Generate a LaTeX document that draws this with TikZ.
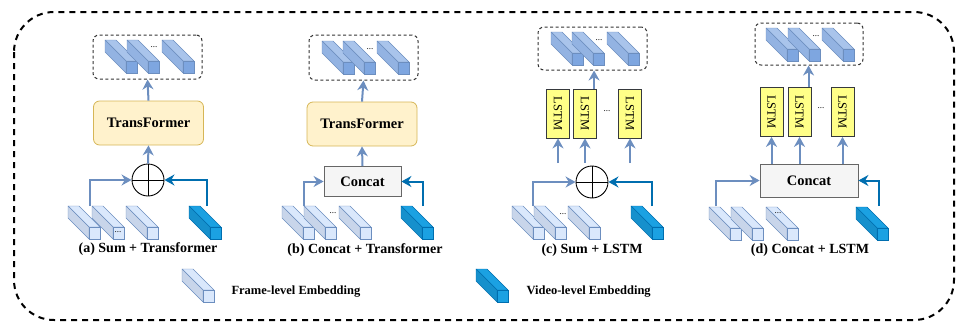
\documentclass[tikz,border=0pt]{standalone}
\usepackage{fontspec}
\setmainfont{Liberation Serif}
\usetikzlibrary{arrows.meta}
\definecolor{framefill}{HTML}{DAE8FC}
\definecolor{frameside}{HTML}{C8D5EA}
\definecolor{framedraw}{HTML}{6C8EBF}
\definecolor{outfill}{HTML}{A9C4EB}
\definecolor{outside}{HTML}{93B3E2}
\definecolor{outfront}{HTML}{7EA6E0}
\definecolor{videofill}{HTML}{1BA1E2}
\definecolor{videoside}{HTML}{1690CC}
\definecolor{videodraw}{HTML}{006EAF}
\definecolor{tffill}{HTML}{FFF2CC}
\definecolor{tfdraw}{HTML}{D6B656}
\definecolor{catfill}{HTML}{F5F5F5}
\definecolor{catdraw}{HTML}{666666}
\definecolor{lstmfill}{HTML}{FFFF88}
\definecolor{lstmdraw}{HTML}{36393D}
\tikzstyle{frame top}=[draw=framedraw, fill=framefill, line join=round]
\tikzstyle{frame side}=[draw=framedraw, fill=frameside, line join=round]
\tikzstyle{frame front}=[draw=framedraw, fill=framefill]
\tikzstyle{out top}=[draw=framedraw, fill=outfill, line join=round]
\tikzstyle{out side}=[draw=framedraw, fill=outside, line join=round]
\tikzstyle{out front}=[draw=framedraw, fill=outfront]
\tikzstyle{video top}=[draw=videodraw, fill=videofill, line join=round]
\tikzstyle{video side}=[draw=videodraw, fill=videoside, line join=round]
\tikzstyle{video front}=[draw=videodraw, fill=videofill]
\tikzstyle{out box}=[draw=black!80, dash pattern=on 3pt off 2.5pt, rounded corners=6pt, line width=1pt]
\tikzstyle{transformer}=[draw=tfdraw, fill=tffill, line width=0.8pt, rounded corners=6pt, minimum width=110pt, minimum height=44pt, font=\fontsize{14.5}{16}\selectfont\bfseries]
\tikzstyle{concat}=[draw=catdraw, fill=catfill, line width=0.8pt, minimum height=30pt, font=\fontsize{14.5}{16}\selectfont\bfseries]
\tikzstyle{lstm}=[draw=lstmdraw, fill=lstmfill, line width=0.8pt, minimum width=23pt, minimum height=49pt, inner sep=0pt, font=\fontsize{12.5}{14}\selectfont]
\tikzstyle{sum}=[draw, circle, line width=0.9pt, minimum size=32pt, inner sep=0pt,
  path picture={\draw[line width=0.9pt] (path picture bounding box.north) -- (path picture bounding box.south)
  (path picture bounding box.west) -- (path picture bounding box.east);}]
\tikzstyle{frame arrow}=[draw=framedraw, line width=2pt, -{Stealth[length=10pt, width=11pt]}]
\tikzstyle{video arrow}=[draw=videodraw, line width=2pt, -{Stealth[length=10pt, width=11pt]}]
\tikzstyle{panel title}=[font=\fontsize{14}{16}\selectfont\bfseries]
\tikzstyle{legend text}=[font=\fontsize{12.5}{14}\selectfont\bfseries, anchor=west]
\tikzstyle{dots}=[font=\fontsize{9}{9}\selectfont, inner sep=0pt]
% one embedding bar, #2,#3 = top left corner of its end face
\newcommand{\embbar}[3]{%
  \filldraw[#1 top] (#2,#3) -- ++(11,0) -- ++(-21,-21) -- ++(-11,0) -- cycle;
  \filldraw[#1 side] (#2,#3) -- ++(0,12) -- ++(-21,-21) -- ++(0,-12) -- cycle;
  \filldraw[#1 front] (#2,#3) rectangle ++(11,12);}

\begin{document}
\begin{tikzpicture}[x=1pt, y=-1pt]
  \useasboundingbox (0,0) rectangle (957,324);
  \draw[line width=2pt, dash pattern=on 6pt off 5pt, rounded corners=40pt] (14,12) rectangle (954,320);

  % (a) Sum + Transformer
  \node[out box, minimum width=109pt, minimum height=44pt] (a-out) at (147.5,57) {};
  \embbar{out}{126}{61} \embbar{out}{148}{61} \embbar{out}{183}{61}
  \node[dots] at (154,47) {...};
  \node[transformer] (a-tf) at (148.5,123) {TransFormer};
  \node[sum] (a-sum) at (148,180) {};
  \embbar{frame}{89}{227} \embbar{frame}{113}{227} \embbar{frame}{147}{227}
  \node[dots] at (118,232) {...};
  \embbar{video}{210}{227}
  \coordinate (a-fin) at (90,206);
  \coordinate (a-vin) at (207,206);
  \draw[frame arrow] (a-fin) |- (a-sum.west);
  \draw[video arrow] (a-vin) |- (a-sum.east);
  \draw[frame arrow] (a-sum.north) -- (a-tf.south);
  \draw[frame arrow] (a-tf.north) -- (a-out.south);
  \node[panel title] (a-title) at (148,249) {(a) Sum + Transformer};

  % (b) Concat + Transformer
  \node[out box, minimum width=109pt, minimum height=45pt] (b-out) at (363.5,57.5) {};
  \embbar{out}{343}{62} \embbar{out}{364}{62} \embbar{out}{398}{62}
  \node[dots] at (370,49) {...};
  \node[transformer] (b-tf) at (362,124) {TransFormer};
  \node[concat, minimum width=77pt] (b-cat) at (362.5,181.5) {Concat};
  \embbar{frame}{303}{227} \embbar{frame}{325}{227} \embbar{frame}{360}{227}
  \node[dots] at (333,213) {...};
  \embbar{video}{422}{227}
  \coordinate (b-fin) at (304,206);
  \coordinate (b-vin) at (423,206);
  \draw[frame arrow] (b-fin) |- (b-cat.west);
  \draw[video arrow] (b-vin) |- (b-cat.east);
  \draw[frame arrow] (b-cat.north) -- (b-tf.south);
  \draw[frame arrow] (b-tf.north) -- (b-out.south);
  \node[panel title] (b-title) at (365,250) {(b) Concat + Transformer};

  % (c) Sum + LSTM
  \node[out box, minimum width=109pt, minimum height=43pt] (c-out) at (592.5,48.5) {};
  \embbar{out}{572}{53} \embbar{out}{593}{53} \embbar{out}{628}{53}
  \node[dots] at (599,40) {...};
  \node[lstm] (c-l1) at (558,113.5) {\rotatebox{-90}{LSTM}};
  \node[lstm] (c-l2) at (585,113.5) {\rotatebox{-90}{LSTM}};
  \node[lstm] (c-l3) at (630,113.5) {\rotatebox{-90}{LSTM}};
  \node[dots] at (607,111) {...};
  \node[sum] (c-sum) at (592,182) {};
  \coordinate (c-up1) at (558,163);
  \coordinate (c-up2) at (585,163);
  \coordinate (c-up3) at (630,163);
  \foreach \i in {1,2,3}
    \draw[frame arrow] (c-up\i) -- (c-l\i.south);
  \draw[frame arrow] (c-l2.70) -- (c-l2.70 |- c-out.south);
  \embbar{frame}{533}{227} \embbar{frame}{555}{227} \embbar{frame}{589}{227}
  \node[dots] at (563,214) {...};
  \embbar{video}{652}{227}
  \coordinate (c-fin) at (533,206);
  \coordinate (c-vin) at (652,206);
  \draw[frame arrow] (c-fin) |- (c-sum.west);
  \draw[video arrow] (c-vin) |- (c-sum.east);
  \node[panel title] (c-title) at (592,250) {(c) Sum + LSTM};

  % (d) Concat + LSTM
  \node[out box, minimum width=108pt, minimum height=42pt] (d-out) at (809,44) {};
  \embbar{out}{787}{49} \embbar{out}{809}{49} \embbar{out}{843}{49}
  \node[dots] at (816,36) {...};
  \node[lstm] (d-l1) at (771.5,112) {\rotatebox{-90}{LSTM}};
  \node[lstm] (d-l2) at (799.5,112) {\rotatebox{-90}{LSTM}};
  \node[lstm] (d-l3) at (842.5,112) {\rotatebox{-90}{LSTM}};
  \node[dots] at (821,108) {...};
  \node[concat, minimum width=98pt, minimum height=33pt] (d-cat) at (809,180.5) {Concat};
  \foreach \i in {1,2,3}
    \draw[frame arrow] (d-l\i.south |- d-cat.north) -- (d-l\i.south);
  \draw[frame arrow] (d-l2.70) -- (d-l2.70 |- d-out.south);
  \embbar{frame}{730}{228} \embbar{frame}{752}{228} \embbar{frame}{787}{228}
  \node[dots] at (778,213) {...};
  \embbar{video}{877}{228}
  \coordinate (d-fin) at (716,206);
  \coordinate (d-vin) at (879,206);
  \draw[frame arrow] (d-fin) |- (d-cat.west);
  \draw[video arrow] (d-vin) |- (d-cat.east);
  \node[panel title] (d-title) at (810,250) {(d) Concat + LSTM};

  % legend
  \embbar{frame}{203}{290}
  \node[legend text] (frame-key) at (228,292) {Frame-level Embedding};
  \embbar{video}{497}{290}
  \node[legend text] (video-key) at (523,292) {Video-level Embedding};
\end{tikzpicture}
\end{document}
